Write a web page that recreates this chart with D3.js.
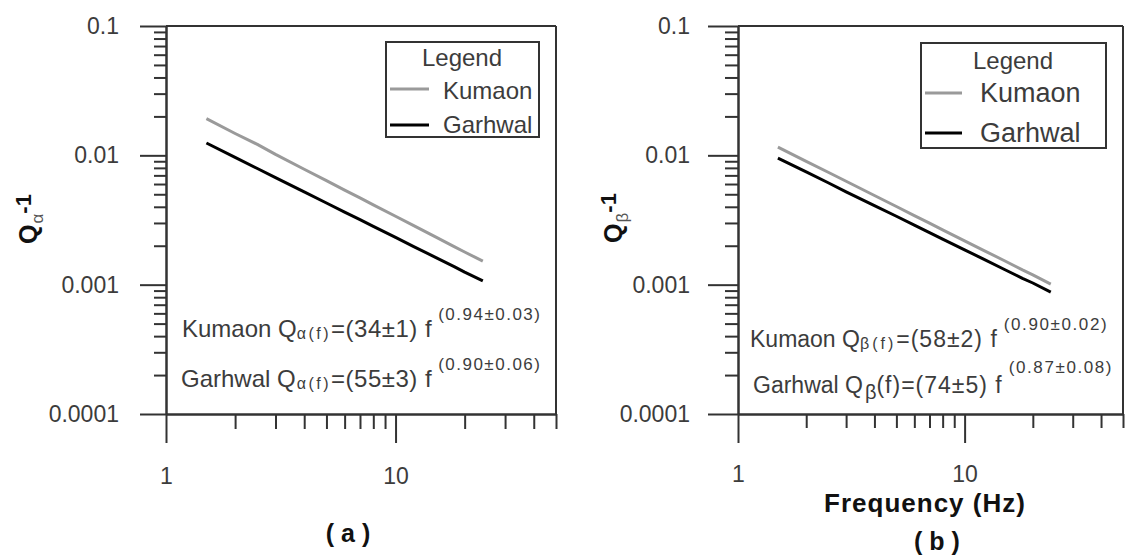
<!DOCTYPE html>
<html>
<head>
<meta charset="utf-8">
<script src="https://cdn.jsdelivr.net/npm/d3@7"></script>
<style>
body { margin: 0; background: #fff; }
svg { display: block; font-family: "Liberation Sans", Arial, sans-serif; }
</style>
</head>
<body>
<svg id="chart" width="1125" height="557"></svg>
<script>
// frequencies (Hz) and attenuation values
const freqs = [1.5, 2, 2.5, 3, 4, 5, 6, 7, 8, 10, 12, 15, 18, 20, 24];
const kumaonAlpha = [0.0192, 0.01476, 0.01215, 0.01017, 0.00781, 0.00637, 0.00539, 0.00469, 0.00414, 0.00338, 0.00286, 0.00233, 0.00197, 0.00179, 0.00152];
const garhwalAlpha = [0.01245, 0.00964, 0.00791, 0.00672, 0.00521, 0.00428, 0.00364, 0.00318, 0.00282, 0.00232, 0.00197, 0.00162, 0.00138, 0.00125, 0.00107];
const kumaonBeta = [0.01159, 0.00899, 0.00740, 0.00630, 0.00489, 0.00402, 0.00342, 0.00299, 0.00265, 0.00218, 0.00186, 0.00153, 0.00130, 0.00119, 0.00101];
const garhwalBeta = [0.00953, 0.00745, 0.00614, 0.00522, 0.00409, 0.00338, 0.00289, 0.00253, 0.00225, 0.00186, 0.00159, 0.00131, 0.00112, 0.00103, 0.000877];

const seriesNames = ["Kumaon", "Garhwal"];
const seriesColors = ["#9a9a9a", "#000"];

const xDomain = [1, 50];
const yDomain = [0.0001, 0.1];
const xMajorTicks = [1, 10];
const xTickLabels = ["1", "10"];
const yMajorTicks = [0.0001, 0.001, 0.01, 0.1];
const yTickLabels = ["0.0001", "0.001", "0.01", "0.1"];

const svg = d3.select("#chart");
const textColor = "#3c3c3c";
const plotTop = 26, plotBottom = 414;

// log minor ticks between the decades
function minorTicks(domain) {
	const ticks = [];
	for (let e = Math.floor(Math.log10(domain[0])); e < Math.ceil(Math.log10(domain[1])); e++) {
		for (let m = 2; m <= 9; m++) {
			const v = m * Math.pow(10, e);
			if (v > domain[0] && v <= domain[1] * 1.0001) ticks.push(+v.toPrecision(3));
		}
	}
	return ticks;
}

function drawPanel(p) {
	const x = d3.scaleLog().domain(xDomain).range([p.x0, p.x1]);
	const y = d3.scaleLog().domain(yDomain).range([plotBottom, plotTop]);
	const g = svg.append("g");

	// frame: top and right
	g.append("line").attr("x1", p.x0).attr("x2", p.x1).attr("y1", plotTop).attr("y2", plotTop)
		.attr("stroke", "#333").attr("stroke-width", 2);
	g.append("line").attr("x1", p.x1).attr("x2", p.x1).attr("y1", plotTop).attr("y2", plotBottom)
		.attr("stroke", "#333").attr("stroke-width", 2);

	const yMinor = g.append("g").attr("transform", `translate(${p.x0},0)`)
		.call(d3.axisLeft(y).tickValues(minorTicks(yDomain)).tickSize(p.yMinor).tickSizeOuter(0).tickFormat(""));
	const yMajor = g.append("g").attr("transform", `translate(${p.x0},0)`)
		.call(d3.axisLeft(y).tickValues(yMajorTicks).tickSize(p.yMajor).tickSizeOuter(0).tickPadding(p.yPad)
			.tickFormat((d, i) => yTickLabels[i]));
	const xMinor = g.append("g").attr("transform", `translate(0,${plotBottom})`)
		.call(d3.axisBottom(x).tickValues(minorTicks(xDomain)).tickSize(p.xMinor).tickSizeOuter(0).tickFormat(""));
	const xMajor = g.append("g").attr("transform", `translate(0,${plotBottom})`)
		.call(d3.axisBottom(x).tickValues(xMajorTicks).tickSize(p.xMajor).tickSizeOuter(0).tickPadding(p.xPad)
			.tickFormat((d, i) => xTickLabels[i]));

	[yMinor, yMajor, xMinor, xMajor].forEach(a => {
		a.selectAll(".domain").attr("stroke", "#333").attr("stroke-width", 2);
		a.selectAll(".tick line").attr("stroke", "#333").attr("stroke-width", 2);
		a.selectAll(".tick text").attr("fill", textColor).attr("font-size", 23)
			.attr("font-family", "Liberation Sans, Arial, sans-serif");
	});

	// curves
	const line = d3.line().x(d => x(d[0])).y(d => y(d[1]));
	p.series.forEach((vals, i) => {
		g.append("path")
			.datum(freqs.map((f, j) => [f, vals[j]]))
			.attr("fill", "none")
			.attr("stroke", seriesColors[i])
			.attr("stroke-width", 3)
			.attr("stroke-linejoin", "round")
			.attr("d", line);
	});

	// legend
	const L = p.legend;
	g.append("rect").attr("x", L.x).attr("y", L.y).attr("width", L.w).attr("height", L.h)
		.attr("fill", "#fff").attr("stroke", "#333").attr("stroke-width", 2);
	g.append("text").attr("x", L.titleX).attr("y", L.titleY).attr("text-anchor", "middle")
		.attr("font-size", 24).attr("fill", textColor).text("Legend");
	seriesNames.forEach((name, i) => {
		g.append("line").attr("x1", L.x + 4).attr("x2", L.x + 4 + L.lineLen)
			.attr("y1", L.rowY[i]).attr("y2", L.rowY[i])
			.attr("stroke", seriesColors[i]).attr("stroke-width", 3);
		g.append("text").attr("x", L.textX).attr("y", L.textY[i])
			.attr("font-size", L.fontSize).attr("fill", textColor).text(name);
	});

	// fitted relations, pieces flow one after the other
	p.notes.forEach(n => {
		const t = g.append("text").attr("x", n.x).attr("y", n.y).attr("fill", textColor);
		n.parts.forEach(s => {
			t.append("tspan").attr("font-size", s.size).attr("dy", s.dy || 0).attr("dx", s.dx || 0)
				.attr("letter-spacing", s.ls || 0).text(s.t);
		});
	});

	// y axis title
	const yt = g.append("text")
		.attr("transform", `translate(${p.yTitle.x},${p.yTitle.y}) rotate(-90)`)
		.attr("text-anchor", "middle").attr("fill", "#111");
	yt.append("tspan").attr("font-size", 25).attr("font-weight", "bold").text("Q");
	yt.append("tspan").attr("font-size", 17).attr("dy", 6).attr("dx", 1).attr("fill", "#555").text(p.yTitle.sub);
	yt.append("tspan").attr("font-size", 22).attr("font-weight", "bold").attr("dy", -12).text("-1");

	// panel tag
	g.append("text").attr("x", p.tag.x).attr("y", p.tag.y).attr("text-anchor", "middle")
		.attr("font-size", 25).attr("font-weight", "bold").attr("fill", "#111").attr("xml:space", "preserve")
		.text(p.tag.t);
}

drawPanel({
	x0: 166, x1: 556,
	yMajor: 26, yMinor: 12, yPad: 21,
	xMajor: 29, xMinor: 15, xPad: 25,
	series: [kumaonAlpha, garhwalAlpha],
	legend: { x: 386, y: 42, w: 153, h: 95, titleX: 462, titleY: 66, lineLen: 39, rowY: [89, 125],
		textX: 443, textY: [99, 133], fontSize: 24 },
	notes: [
		{ x: 182, y: 337, parts: [
			{ t: "Kumaon Q", size: 24 },
			{ t: "α(f)", size: 16, dy: 2, ls: 2.5 },
			{ t: "=(34±1) f", size: 24, dy: -2, ls: 0.5 },
			{ t: "(0.94±0.03)", size: 17, dy: -17, dx: 6, ls: 1.5 }
		] },
		{ x: 181, y: 387, parts: [
			{ t: "Garhwal Q", size: 24 },
			{ t: "α(f)", size: 16, dy: 2, dx: 1, ls: 2.5 },
			{ t: "=(55±3) f", size: 24, dy: -2, ls: 0.5 },
			{ t: "(0.90±0.06)", size: 17, dy: -17, dx: 6, ls: 1.5 }
		] }
	],
	yTitle: { x: 37, y: 219, sub: "α" },
	tag: { x: 348, y: 542, t: "( a )" }
});

drawPanel({
	x0: 738, x1: 1123,
	yMajor: 30, yMinor: 13, yPad: 18,
	xMajor: 29, xMinor: 14, xPad: 23,
	series: [kumaonBeta, garhwalBeta],
	legend: { x: 921, y: 43, w: 185, h: 105, titleX: 1013, titleY: 69, lineLen: 37, rowY: [93, 133],
		textX: 980, textY: [102, 142], fontSize: 27 },
	notes: [
		{ x: 750, y: 347, parts: [
			{ t: "Kumaon Q", size: 23 },
			{ t: "β(f)", size: 16, dy: 2, ls: 3 },
			{ t: "=(58±2) f", size: 23, dy: -2, ls: 1 },
			{ t: "(0.90±0.02)", size: 17, dy: -17, dx: 6, ls: 1.6 }
		] },
		{ x: 753, y: 393, parts: [
			{ t: "Garhwal Q", size: 23 },
			{ t: "β", size: 20, dy: 6, dx: 2 },
			{ t: "(f)=(74±5) f", size: 23, dy: -6, ls: 1 },
			{ t: "(0.87±0.08)", size: 17, dy: -20, dx: 6, ls: 1.6 }
		] }
	],
	yTitle: { x: 622, y: 218, sub: "β" },
	tag: { x: 937, y: 550, t: "( b )" }
});

// x axis title on the right panel
svg.append("text").attr("x", 925).attr("y", 512).attr("text-anchor", "middle")
	.attr("font-size", 26).attr("font-weight", "bold").attr("letter-spacing", 1).attr("fill", "#111")
	.text("Frequency (Hz)");
</script>
</body>
</html>
